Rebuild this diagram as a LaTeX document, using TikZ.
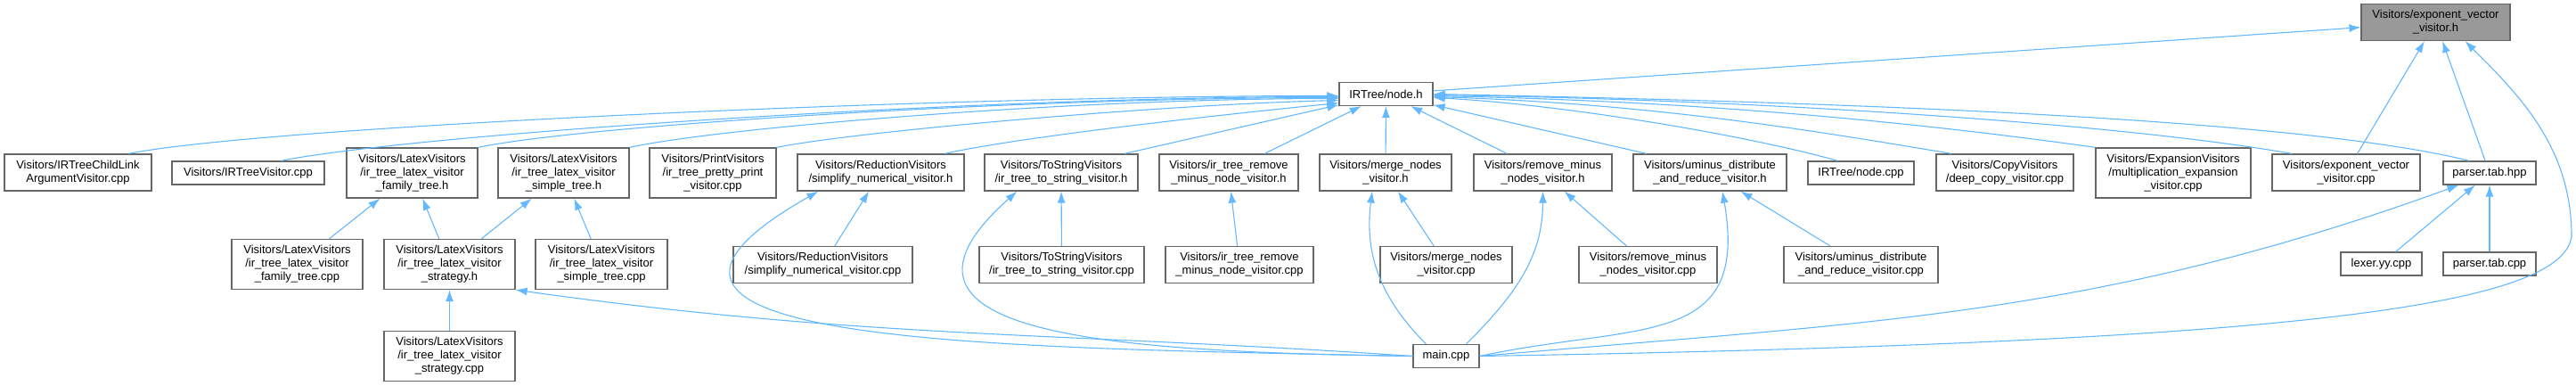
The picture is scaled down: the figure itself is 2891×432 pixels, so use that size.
\documentclass[tikz,border=0pt]{standalone}
\usepackage{xcolor}
\usepackage{fontspec}
\setmainfont{Liberation Sans}
\usepackage{tikz}
\usetikzlibrary{arrows.meta, positioning}

\definecolor{edgeblue}{HTML}{63B8FF}
\definecolor{boxgray}{HTML}{666666}
\definecolor{mainfill}{HTML}{999999}

\begin{document}
\begin{tikzpicture}[
        x=1pt, y=1pt,
        file/.style={rectangle, draw=boxgray, fill=white, line width=1.2pt, align=center, inner xsep=2pt, inner ysep=7pt, minimum height=26pt, font=\fontsize{13}{15}\selectfont},
        mainfile/.style={file, fill=mainfill},
        line/.style={draw=edgeblue, line width=1.1pt, -{Latex[length=13pt, width=9pt]}}
    ]
        \useasboundingbox (0,0) rectangle (2891,-432);

        % the header and what includes it directly
        \node [mainfile, minimum width=167pt] (evh) at (2733.5,-25) {Visitors/exponent\_vector\\\_visitor.h};
        \node [file, minimum width=105pt] (nodeh) at (1555.5,-105.5) {IRTree/node.h};

        % row 2
        \node [file, minimum width=165pt] (childlink) at (87.5,-193.5) {Visitors/IRTreeChildLink\\ArgumentVisitor.cpp};
        \node [file, minimum width=171pt] (irtv) at (278.5,-194) {Visitors/IRTreeVisitor.cpp};
        \node [file, minimum width=147pt] (lvfh) at (462.5,-194) {Visitors/LatexVisitors\\/ir\_tree\_latex\_visitor\\\_family\_tree.h};
        \node [file, minimum width=147pt] (lvsh) at (632.5,-194) {Visitors/LatexVisitors\\/ir\_tree\_latex\_visitor\\\_simple\_tree.h};
        \node [file, minimum width=142pt] (pretty) at (800,-194) {Visitors/PrintVisitors\\/ir\_tree\_pretty\_print\\\_visitor.cpp};
        \node [file, minimum width=187pt] (simph) at (988.5,-193.5) {Visitors/ReductionVisitors\\/simplify\_numerical\_visitor.h};
        \node [file, minimum width=172pt] (tostrh) at (1191,-193.5) {Visitors/ToStringVisitors\\/ir\_tree\_to\_string\_visitor.h};
        \node [file, minimum width=156pt] (rmnh) at (1379,-193.5) {Visitors/ir\_tree\_remove\\\_minus\_node\_visitor.h};
        \node [file, minimum width=148pt] (mergeh) at (1555,-193.5) {Visitors/merge\_nodes\\\_visitor.h};
        \node [file, minimum width=155pt] (rmnsh) at (1731.5,-193.5) {Visitors/remove\_minus\\\_nodes\_visitor.h};
        \node [file, minimum width=172pt] (uminh) at (1919,-193.5) {Visitors/uminus\_distribute\\\_and\_reduce\_visitor.h};
        \node [file, minimum width=119pt] (nodecpp) at (2088.5,-194) {IRTree/node.cpp};
        \node [file, minimum width=154pt] (deepcopy) at (2250,-193.5) {Visitors/CopyVisitors\\/deep\_copy\_visitor.cpp};
        \node [file, minimum width=174pt] (multexp) at (2439,-194) {Visitors/ExpansionVisitors\\/multiplication\_expansion\\\_visitor.cpp};
        \node [file, minimum width=166pt] (evcpp) at (2633,-193.5) {Visitors/exponent\_vector\\\_visitor.cpp};
        \node [file, minimum width=104pt] (parserh) at (2794,-194) {parser.tab.hpp};

        % row 3
        \node [file, minimum width=147pt] (lvfcpp) at (333.5,-296.5) {Visitors/LatexVisitors\\/ir\_tree\_latex\_visitor\\\_family\_tree.cpp};
        \node [file, minimum width=147pt] (lvsth) at (504.5,-296.5) {Visitors/LatexVisitors\\/ir\_tree\_latex\_visitor\\\_strategy.h};
        \node [file, minimum width=148pt] (lvscpp) at (675,-296.5) {Visitors/LatexVisitors\\/ir\_tree\_latex\_visitor\\\_simple\_tree.cpp};
        \node [file, minimum width=201pt] (simpcpp) at (923.5,-297) {Visitors/ReductionVisitors\\/simplify\_numerical\_visitor.cpp};
        \node [file, minimum width=185pt] (tostrcpp) at (1191.5,-297) {Visitors/ToStringVisitors\\/ir\_tree\_to\_string\_visitor.cpp};
        \node [file, minimum width=166pt] (rmncpp) at (1391,-297) {Visitors/ir\_tree\_remove\\\_minus\_node\_visitor.cpp};
        \node [file, minimum width=148pt] (mergecpp) at (1623,-297) {Visitors/merge\_nodes\\\_visitor.cpp};
        \node [file, minimum width=155pt] (rmnscpp) at (1849.5,-297) {Visitors/remove\_minus\\\_nodes\_visitor.cpp};
        \node [file, minimum width=173pt] (umincpp) at (2088.5,-297) {Visitors/uminus\_distribute\\\_and\_reduce\_visitor.cpp};
        \node [file, minimum width=91pt] (lexer) at (2672.5,-296) {lexer.yy.cpp};
        \node [file, minimum width=104pt] (parsercpp) at (2794,-296) {parser.tab.cpp};

        % row 4
        \node [file, minimum width=147pt] (lvstcpp) at (504.5,-399.5) {Visitors/LatexVisitors\\/ir\_tree\_latex\_visitor\\\_strategy.cpp};
        \node [file, minimum width=74pt] (main) at (1623,-399.5) {main.cpp};
        \coordinate (evbend) at (2886,-265);

        % into exponent_vector_visitor.h
        \path [line] (nodeh) -- (evh);
        \path [line] (evcpp) -- (evh);
        \path [line] (parserh) -- (evh);
        \path [line] (main.east) .. controls +(900,15) and +(-10,-80) .. (evbend) .. controls +(0,100) and +(60,-60) .. ([xshift=33pt]evh.south);

        % into node.h
        \path [line] ([xshift=57pt]childlink.north) .. controls +(150,30) and +(-450,0) .. ([yshift=-2pt]nodeh.west);
        \path [line] ([xshift=37pt]irtv.north) .. controls +(150,30) and +(-400,0) .. ([yshift=-3pt]nodeh.west);
        \path [line] (lvfh.north east) .. controls +(120,25) and +(-350,0) .. ([yshift=-4pt]nodeh.west);
        \path [line] (lvsh.north east) .. controls +(100,22) and +(-300,0) .. ([yshift=-5pt]nodeh.west);
        \path [line] (pretty.north east) .. controls +(90,18) and +(-200,-5) .. ([yshift=-7pt]nodeh.west);
        \path [line] ([xshift=72pt]simph.north) .. controls +(80,18) and +(-150,-15) .. ([yshift=-10pt]nodeh.west);
        \path [line] ([xshift=71pt]tostrh.north) -- (nodeh);
        \path [line] ([xshift=40pt]rmnh.north) -- (nodeh);
        \path [line] (mergeh) -- (nodeh);
        \path [line] ([xshift=-40pt]rmnsh.north) -- (nodeh);
        \path [line] ([xshift=-71pt]uminh.north) -- (nodeh);
        \path [line] ([xshift=-26pt]nodecpp.north) .. controls +(-100,28) and +(150,-8) .. ([yshift=-4pt]nodeh.east);
        \path [line] ([xshift=-60pt]deepcopy.north) .. controls +(-150,25) and +(250,-8) .. ([yshift=-3pt]nodeh.east);
        \path [line] (multexp.north west) .. controls +(-200,28) and +(300,-6) .. ([yshift=-2pt]nodeh.east);
        \path [line] ([xshift=-61pt]evcpp.north) .. controls +(-200,35) and +(350,-5) .. ([yshift=-1pt]nodeh.east);
        \path [line] ([xshift=-23pt]parserh.north) .. controls +(-200,50) and +(400,-8) .. (nodeh.east);

        % second level
        \path [line] (lvfcpp) -- (lvfh);
        \path [line] (lvsth) -- (lvfh);
        \path [line] (lvsth) -- (lvsh);
        \path [line] (lvscpp) -- (lvsh);
        \path [line] (lvstcpp) -- (lvsth);
        \path [line] (simpcpp) -- (simph);
        \path [line] (tostrcpp) -- (tostrh);
        \path [line] (rmncpp) -- (rmnh);
        \path [line] (mergecpp) -- (mergeh);
        \path [line] (rmnscpp) -- (rmnsh);
        \path [line] (umincpp) -- (uminh);
        \path [line] (lexer) -- (parserh);
        \path [line] (parsercpp) -- (parserh);

        % main.cpp
        \path [line] (main.west) .. controls +(-394,27) and +(391,-55) .. (lvsth.south east);
        \path [line] (main.west) .. controls +(-500,10) and +(-300,-170) .. ([xshift=24pt]simph.south west);
        \path [line] (main.west) .. controls +(-350,5) and +(-180,-160) .. ([xshift=37pt]tostrh.south west);
        \path [line] ([xshift=15pt]main.north west) .. controls +(-51,51) and +(-9,-71) .. ([xshift=-15pt]mergeh.south);
        \path [line] ([xshift=-15pt]main.north east) .. controls +(53,53) and +(0,-75) .. (rmnsh.south);
        \path [line] (main.east) .. controls +(177,38) and +(31,-178) .. ([xshift=14pt]uminh.south);
        \path [line] (main.east) .. controls +(435,38) and +(-411,-149) .. ([xshift=18pt]parserh.south west);
    \end{tikzpicture}
\end{document}
